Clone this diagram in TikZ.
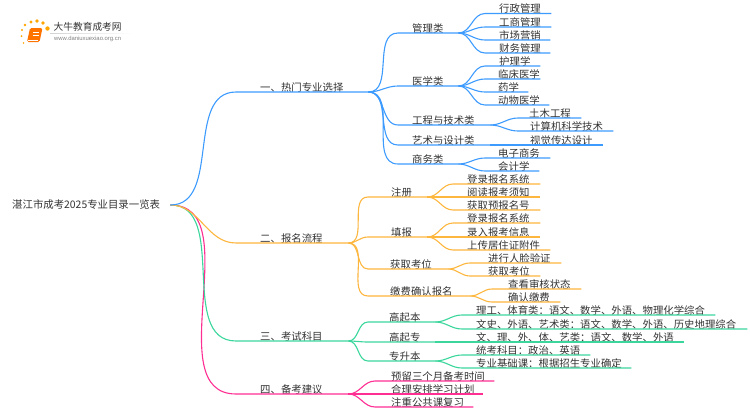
\documentclass[tikz,border=0pt]{standalone}
\usepackage{fontspec}
\setmainfont{Noto Sans CJK SC}
\newfontfamily\urlfont{Liberation Sans}
\definecolor{bluebr}{HTML}{3D9BFF}
\definecolor{orangebr}{HTML}{FDB63E}
\definecolor{greenbr}{HTML}{3AD69C}
\definecolor{pinkbr}{HTML}{FF2E93}
\definecolor{inkc}{HTML}{333333}
\tikzset{
lab/.style 2 args={anchor=south west,inner sep=0pt,text width=#1pt,text height=9pt,text depth=.6pt,font=\fontsize{10.4}{12}\selectfont,text=inkc,execute at begin node={\hspace*{#2pt}}},
link/.style={out=0,in=180,looseness=1},
bl/.style={draw=bluebr,line width=1.1pt},
or/.style={draw=orangebr,line width=1.1pt},
gr/.style={draw=greenbr,line width=1.1pt},
pk/.style={draw=pinkbr,line width=1.1pt}
}
\begin{document}
\begin{tikzpicture}[x=1pt,y=-1pt]
\useasboundingbox (0,0) rectangle (750,410);
\fill[orange!70!yellow] (22,30) circle [radius=1.2];
\fill[orange!70!yellow] (25,25) circle [radius=1.4];
\fill[orange!70!yellow] (31,22) circle [radius=1.7];
\fill[orange!70!yellow] (37,21) circle [radius=1.9];
\fill[orange!70!yellow] (43,23) circle [radius=1.9];
\fill[orange!70!yellow] (47.5,28.5) circle [radius=2.2];
\fill[orange!70!yellow] (21.5,36) circle [radius=1];
\fill[orange!70!yellow] (23.5,43) circle [radius=.8];
\fill[orange!90!red,rounded corners=1.5pt] (30,28) -- (42.5,28) -- (39.5,42) -- (27,42) -- cycle;
\draw[white,line width=.7pt] (33,32) -- (39,32);
\draw[white,line width=.7pt] (32.5,35) -- (38.5,35);
\draw[white,line width=.7pt] (28,40.5) -- (38,40.5);
\shade[left color=gray!35,right color=white] (50,33) rectangle (133,33.6);
\node[anchor=west,inner sep=0pt,font=\fontsize{9.7}{11}\selectfont,text=inkc] (logoname) at (53.5,27) {大牛教育成考网};
\node[anchor=west,inner sep=0pt,font=\urlfont\fontsize{5.9}{7}\selectfont,text=gray] (logourl) at (54,38.5) {www.daniuxuexiao.org.cn};

\node[anchor=west,inner sep=0pt,text width=158pt,font=\fontsize{10.4}{12}\selectfont,text=inkc] (root) at (12,205) {湛江市成考2025专业目录一览表};

\node[lab={132}{24}] (hot) at (236,92) {一、热门专业选择};
\node[lab={112}{24}] (flow) at (236,243) {二、报名流程};
\node[lab={112}{24}] (exam) at (236,341) {三、考试科目};
\node[lab={112}{24}] (prep) at (236,394) {四、备考建议};
\draw[pk] (root.east) to[link] (prep.south west) -- (prep.south east);
\draw[gr] (root.east) to[link] (exam.south west) -- (exam.south east);
\draw[or] (root.east) to[link] (flow.south west) -- (flow.south east);
\draw[bl] (root.east) to[link] (hot.south west) -- (hot.south east);

\node[lab={60}{14}] (guanli) at (398,33) {管理类};
\node[lab={60}{14}] (yixue) at (398,86) {医学类};
\node[lab={92}{14}] (gongcheng) at (398,125) {工程与技术类};
\node[lab={92}{14}] (yishu) at (398,145) {艺术与设计类};
\node[lab={60}{14}] (shangwu) at (398,164) {商务类};
\draw[bl] (hot.south east) to[link] (guanli.south west) -- (guanli.south east);
\draw[bl] (hot.south east) to[link] (yixue.south west) -- (yixue.south east);
\draw[bl] (hot.south east) to[link] (gongcheng.south west) -- (gongcheng.south east);
\draw[bl] (hot.south east) to[link] (yishu.south west) -- (yishu.south east);
\draw[bl] (hot.south east) to[link] (shangwu.south west) -- (shangwu.south east);

\node[lab={66}{14}] (xingzheng) at (485,13.5) {行政管理};
\node[lab={66}{14}] (gongshang) at (485,27) {工商管理};
\node[lab={65}{14}] (shichang) at (485,40) {市场营销};
\node[lab={65}{14}] (caiwu) at (485,53) {财务管理};
\draw[bl] (guanli.south east) to[link] (xingzheng.south west) -- (xingzheng.south east);
\draw[bl] (guanli.south east) to[link] (gongshang.south west) -- (gongshang.south east);
\draw[bl] (guanli.south east) to[link] (shichang.south west) -- (shichang.south east);
\draw[bl] (guanli.south east) to[link] (caiwu.south west) -- (caiwu.south east);

\node[lab={55}{14}] (huli) at (485,66) {护理学};
\node[lab={55}{13}] (linchuang) at (485,79) {临床医学};
\node[lab={43}{13}] (yaoxue) at (485,92) {药学};
\node[lab={64}{13}] (dongwu) at (485,105) {动物医学};
\draw[bl] (yixue.south east) to[link] (huli.south west) -- (huli.south east);
\draw[bl] (yixue.south east) to[link] (linchuang.south west) -- (linchuang.south east);
\draw[bl] (yixue.south east) to[link] (yaoxue.south west) -- (yaoxue.south east);
\draw[bl] (yixue.south east) to[link] (dongwu.south west) -- (dongwu.south east);

\node[lab={63}{11}] (tumu) at (518,118) {土木工程};
\node[lab={95}{12}] (jisuanji) at (518,131) {计算机科学技术};
\node[lab={85}{12}] (shijue) at (518,145) {视觉传达设计};
\draw[bl] (gongcheng.south east) to[link] (tumu.south west) -- (tumu.south east);
\draw[bl] (gongcheng.south east) to[link] (jisuanji.south west) -- (jisuanji.south east);
\draw[bl] (yishu.south east) to[link] (shijue.south west) -- (shijue.south east);

\node[lab={65}{13}] (dianzi) at (485,158) {电子商务};
\node[lab={54}{13}] (kuaiji) at (485,171) {会计学};
\draw[bl] (shangwu.south east) to[link] (dianzi.south west) -- (dianzi.south east);
\draw[bl] (shangwu.south east) to[link] (kuaiji.south west) -- (kuaiji.south east);

\node[lab={59}{23}] (zhuce) at (368,197) {注册};
\node[lab={59}{23}] (tianbao) at (368,237) {填报};
\node[lab={80}{22}] (kaowei) at (368,269) {获取考位};
\node[lab={102}{22}] (jiaofei) at (368,296) {缴费确认报名};
\draw[or] (flow.south east) to[link] (zhuce.south west) -- (zhuce.south east);
\draw[or] (flow.south east) to[link] (tianbao.south west) -- (tianbao.south east);
\draw[or] (flow.south east) to[link] (kaowei.south west) -- (kaowei.south east);
\draw[or] (flow.south east) to[link] (jiaofei.south west) -- (jiaofei.south east);

\node[lab={87}{14}] (denglua) at (453,184) {登录报名系统};
\node[lab={87}{14}] (yuedu) at (453,197) {阅读报考须知};
\node[lab={87}{14}] (yubao) at (453,210) {获取预报名号};
\draw[or] (zhuce.south east) to[link] (denglua.south west) -- (denglua.south east);
\draw[or] (zhuce.south east) to[link] (yuedu.south west) -- (yuedu.south east);
\draw[or] (zhuce.south east) to[link] (yubao.south west) -- (yubao.south east);

\node[lab={87}{14}] (denglub) at (453,223) {登录报名系统};
\node[lab={87}{14}] (luru) at (453,237) {录入报考信息};
\node[lab={97}{14}] (shangchuan) at (453,250) {上传居住证附件};
\draw[or] (tianbao.south east) to[link] (denglub.south west) -- (denglub.south east);
\draw[or] (tianbao.south east) to[link] (luru.south west) -- (luru.south east);
\draw[or] (tianbao.south east) to[link] (shangchuan.south west) -- (shangchuan.south east);

\node[lab={91}{18}] (renlian) at (470,263) {进行人脸验证};
\node[lab={70}{18}] (huoqu) at (470,276) {获取考位};
\draw[or] (kaowei.south east) to[link] (renlian.south west) -- (renlian.south east);
\draw[or] (kaowei.south east) to[link] (huoqu.south west) -- (huoqu.south east);

\node[lab={89}{16}] (shenhe) at (492,289) {查看审核状态};
\node[lab={68}{16}] (queren) at (492,302) {确认缴费};
\draw[or] (jiaofei.south east) to[link] (shenhe.south west) -- (shenhe.south east);
\draw[or] (jiaofei.south east) to[link] (queren.south west) -- (queren.south east);

\node[lab={67}{21}] (gqb) at (368,322) {高起本};
\node[lab={67}{21}] (gqz) at (368,342) {高起专};
\node[lab={67}{21}] (zsb) at (368,361) {专升本};
\draw[gr] (exam.south east) to[link] (gqb.south west) -- (gqb.south east);
\draw[gr] (exam.south east) to[link] (gqz.south west) -- (gqz.south east);
\draw[gr] (exam.south east) to[link] (zsb.south west) -- (zsb.south east);

\node[lab={253}{14}] (ligong) at (462,315) {理工、体育类：语文、数学、外语、物理化学综合};
\node[lab={285}{14}] (wenshi) at (462,329) {文史、外语、艺术类：语文、数学、外语、历史地理综合};
\node[lab={222}{14}] (wenli) at (462,342) {文、理、外、体、艺类：语文、数学、外语};
\node[lab={128}{14}] (tongkao) at (462,355) {统考科目：政治、英语};
\node[lab={169}{14}] (jichu) at (462,368) {专业基础课：根据招生专业确定};
\draw[gr] (gqb.south east) to[link] (ligong.south west) -- (ligong.south east);
\draw[gr] (gqb.south east) to[link] (wenshi.south west) -- (wenshi.south east);
\draw[gr] (gqz.south east) to[link] (wenli.south west) -- (wenli.south east);
\draw[gr] (zsb.south east) to[link] (tongkao.south west) -- (tongkao.south east);
\draw[gr] (zsb.south east) to[link] (jichu.south west) -- (jichu.south east);

\node[lab={119}{16}] (yuliu) at (375,381) {预留三个月备考时间};
\node[lab={108}{16}] (heli) at (375,394) {合理安排学习计划};
\node[lab={98}{16}] (zhongdian) at (375,407) {注重公共课复习};
\draw[pk] (prep.south east) to[link] (yuliu.south west) -- (yuliu.south east);
\draw[pk] (prep.south east) to[link] (heli.south west) -- (heli.south east);
\draw[pk] (prep.south east) to[link] (zhongdian.south west) -- (zhongdian.south east);
\end{tikzpicture}
\end{document}
